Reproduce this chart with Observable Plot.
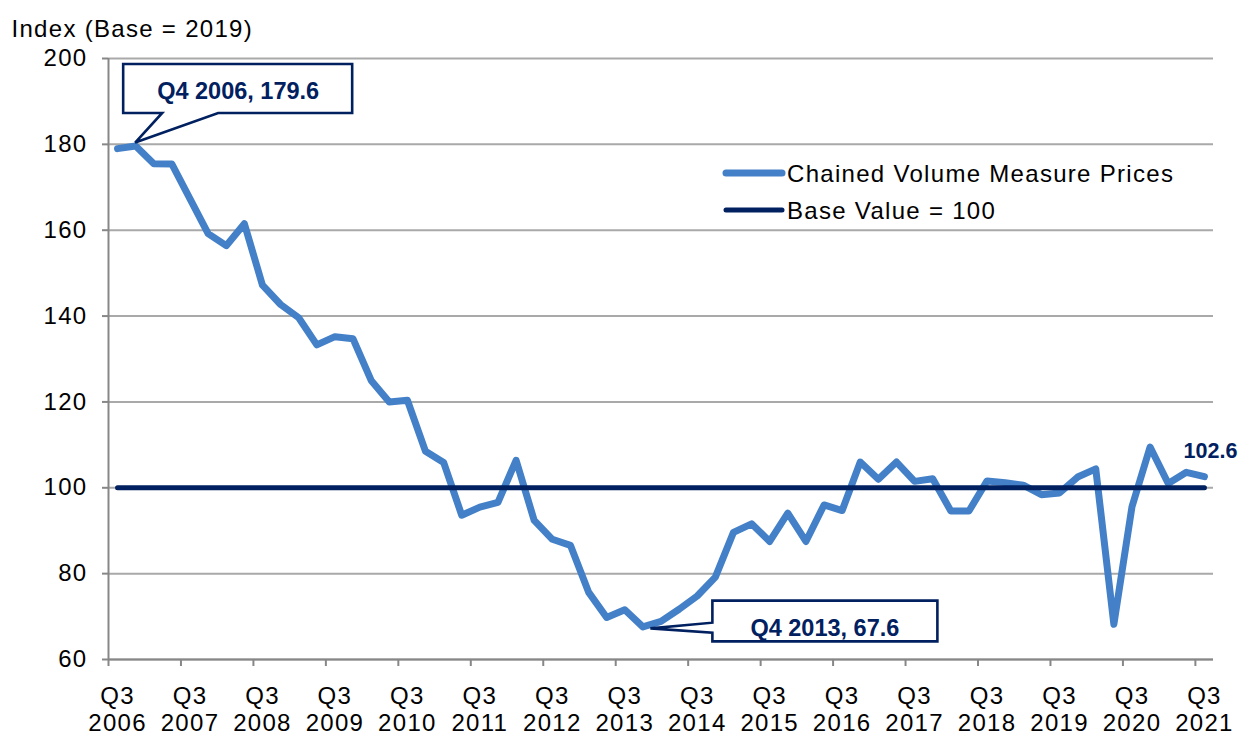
<!DOCTYPE html>
<html><head><meta charset="utf-8">
<script src="https://cdn.jsdelivr.net/npm/d3@7"></script>
<script src="https://cdn.jsdelivr.net/npm/@observablehq/plot@0.6"></script>
<style>
html,body{margin:0;padding:0;background:#fff;}
#chart svg{display:block;}
</style>
</head><body><div id="chart"></div>
<script>
// ---- data ----
const quarters = [
  "Q3 2006","Q4 2006",
  "Q1 2007","Q2 2007","Q3 2007","Q4 2007",
  "Q1 2008","Q2 2008","Q3 2008","Q4 2008",
  "Q1 2009","Q2 2009","Q3 2009","Q4 2009",
  "Q1 2010","Q2 2010","Q3 2010","Q4 2010",
  "Q1 2011","Q2 2011","Q3 2011","Q4 2011",
  "Q1 2012","Q2 2012","Q3 2012","Q4 2012",
  "Q1 2013","Q2 2013","Q3 2013","Q4 2013",
  "Q1 2014","Q2 2014","Q3 2014","Q4 2014",
  "Q1 2015","Q2 2015","Q3 2015","Q4 2015",
  "Q1 2016","Q2 2016","Q3 2016","Q4 2016",
  "Q1 2017","Q2 2017","Q3 2017","Q4 2017",
  "Q1 2018","Q2 2018","Q3 2018","Q4 2018",
  "Q1 2019","Q2 2019","Q3 2019","Q4 2019",
  "Q1 2020","Q2 2020","Q3 2020","Q4 2020",
  "Q1 2021","Q2 2021","Q3 2021"
];
const prices = [
  179.0, 179.6,
  175.5, 175.4, 167.3, 159.2,
  156.4, 161.5, 147.2, 142.7,
  139.6, 133.3, 135.2, 134.7,
  125.0, 120.0, 120.4, 108.5,
  105.9, 93.6, 95.5, 96.6,
  106.4, 92.4, 88.0, 86.6,
  75.7, 69.8, 71.6, 67.6,
  68.9, 71.7, 74.8, 79.2,
  89.6, 91.6, 87.5, 94.1,
  87.5, 96.0, 94.7, 106.0,
  102.0, 106.0, 101.5, 102.1,
  94.6, 94.6, 101.6, 101.2,
  100.6, 98.4, 98.8, 102.5,
  104.4, 68.2, 95.6, 109.5,
  101.0, 103.6, 102.6
];
const baseValue = 100;
const seriesNames = ["Chained Volume Measure Prices", "Base Value = 100"];
const yTicks = [60, 80, 100, 120, 140, 160, 180, 200];
const xTickLabels = ["Q3\n2006","Q3\n2007","Q3\n2008","Q3\n2009","Q3\n2010","Q3\n2011","Q3\n2012","Q3\n2013",
                     "Q3\n2014","Q3\n2015","Q3\n2016","Q3\n2017","Q3\n2018","Q3\n2019","Q3\n2020","Q3\n2021"];
const yLabel = "Index (Base = 2019)";
const annQuarters = ["Q4 2006", "Q4 2013"];
const annLabels = ["Q4 2006, 179.6", "Q4 2013, 67.6"];
const endLabel = "102.6";

// ---- derived tables ----
const rows = quarters.map((q, i) => ({i, q, v: prices[i]}));
const baseRows = quarters.map((q, i) => ({i, q, v: baseValue}));
const labelIdx = quarters.map((q, i) => i).filter(i => quarters[i].startsWith("Q3"));
const boundaries = labelIdx.map(i => i - 0.5);
const anns = annQuarters.map((q, k) => ({i: quarters.indexOf(q), v: prices[quarters.indexOf(q)], label: annLabels[k]}));
const last = rows[rows.length - 1];

// ---- style ----
const BLUE = "#4380C8", NAVY = "#002060", GRID = "#a9a9a9", AXIS = "#878787";
const FONT = "'Liberation Sans', Arial, Helvetica, sans-serif";

// callout shapes (pixel offsets relative to the anchored data point)
const calloutStyles = [
  {box: [-12, 217, -81.6, -32.6], tail: "bottom", tailA: 27, tailB: 83, tip: [0, -3], text: [103, -46.6]},
  {box: [70, 295, -25.7, 15], tail: "left", tailA: -3.7, tailB: 6.3, tip: [8, 2], text: [182.5, 10]}
];

function calloutMark(ann, st) {
  return (index, scales) => {
    const px = scales.x(ann.i), py = scales.y(ann.v);
    const [l, r, t, b] = st.box;
    const L = px + l, R = px + r, T = py + t, B = py + b;
    const tx = px + st.tip[0], ty = py + st.tip[1];
    let d;
    if (st.tail === "bottom") {
      d = `M${L},${T}H${R}V${B}H${px + st.tailB}L${tx},${ty}L${px + st.tailA},${B}H${L}Z`;
    } else {
      d = `M${L},${T}H${R}V${B}H${L}V${py + st.tailB}L${tx},${ty}L${L},${py + st.tailA}Z`;
    }
    const g = d3.create("svg:g");
    g.append("path").attr("d", d).attr("fill", "white").attr("stroke", NAVY)
      .attr("stroke-width", 2.6).attr("stroke-linejoin", "miter");
    g.append("text").attr("x", px + st.text[0]).attr("y", py + st.text[1])
      .attr("text-anchor", "middle").attr("font-weight", "bold").attr("font-size", 23.5)
      .attr("letter-spacing", 0).attr("fill", NAVY).attr("font-family", FONT).text(ann.label);
    return g.node();
  };
}

function legendMark(index, scales, values, dims) {
  const g = d3.create("svg:g");
  const x0 = 726, x1 = 782, xt = 787, ys = [173, 210];
  const cols = [BLUE, NAVY], widths = [7, 5];
  seriesNames.forEach((name, k) => {
    g.append("line").attr("x1", x0).attr("x2", x1).attr("y1", ys[k]).attr("y2", ys[k])
      .attr("stroke", cols[k]).attr("stroke-width", widths[k]).attr("stroke-linecap", "round");
    g.append("text").attr("x", xt).attr("y", ys[k] + 8.5).attr("font-size", 24)
      .attr("text-anchor", "start")
      .attr("fill", "#000").attr("font-family", FONT).text(name);
  });
  return g.node();
}

const chart = Plot.plot({
  width: 1241,
  height: 735,
  marginLeft: 108,
  marginRight: 28,
  marginTop: 58,
  marginBottom: 76,
  style: {fontFamily: FONT, fontSize: "24px", background: "white", color: "#000", letterSpacing: "1.3px"},
  x: {type: "linear", domain: [-0.5, quarters.length - 0.5]},
  y: {domain: [60, 200]},
  marks: [
    Plot.gridY(yTicks, {stroke: GRID, strokeOpacity: 1, strokeWidth: 2}),
    Plot.ruleX([-0.5], {stroke: AXIS, strokeWidth: 2}),
    Plot.ruleY([60], {stroke: AXIS, strokeWidth: 2}),
    Plot.axisY(yTicks, {tickSize: 6, tickPadding: 15, stroke: AXIS, strokeWidth: 2, fill: "#000", fontSize: 24, label: null}),
    Plot.axisX(boundaries, {tickSize: 7, tickFormat: () => "", stroke: AXIS, strokeWidth: 2, label: null}),
    Plot.axisX(labelIdx, {tickSize: 0, tickPadding: 25, fontSize: 24, lineHeight: 1.125, fill: "#000",
      tickFormat: d => xTickLabels[labelIdx.indexOf(d)], label: null}),
    Plot.text([yLabel], {frameAnchor: "top-left", text: d => d, textAnchor: "start", lineAnchor: "bottom",
      dx: -97, dy: -22, fontSize: 24, fill: "#000"}),
    Plot.lineY(rows, {x: "i", y: "v", stroke: BLUE, strokeWidth: 7, strokeLinejoin: "round", strokeLinecap: "round"}),
    Plot.lineY(baseRows, {x: "i", y: "v", stroke: NAVY, strokeWidth: 5, strokeLinecap: "round"}),
    Plot.text([last], {x: "i", y: "v", text: () => endLabel, dx: 6, dy: -19, lineAnchor: "bottom",
      fontWeight: "bold", fontSize: 21.5, fill: NAVY}),
    ...anns.map((a, k) => calloutMark(a, calloutStyles[k])),
    legendMark
  ]
});
d3.select(chart).selectAll("g[font-weight=bold] text").style("letter-spacing", "0px");
document.getElementById("chart").appendChild(chart);
</script>
</body></html>
